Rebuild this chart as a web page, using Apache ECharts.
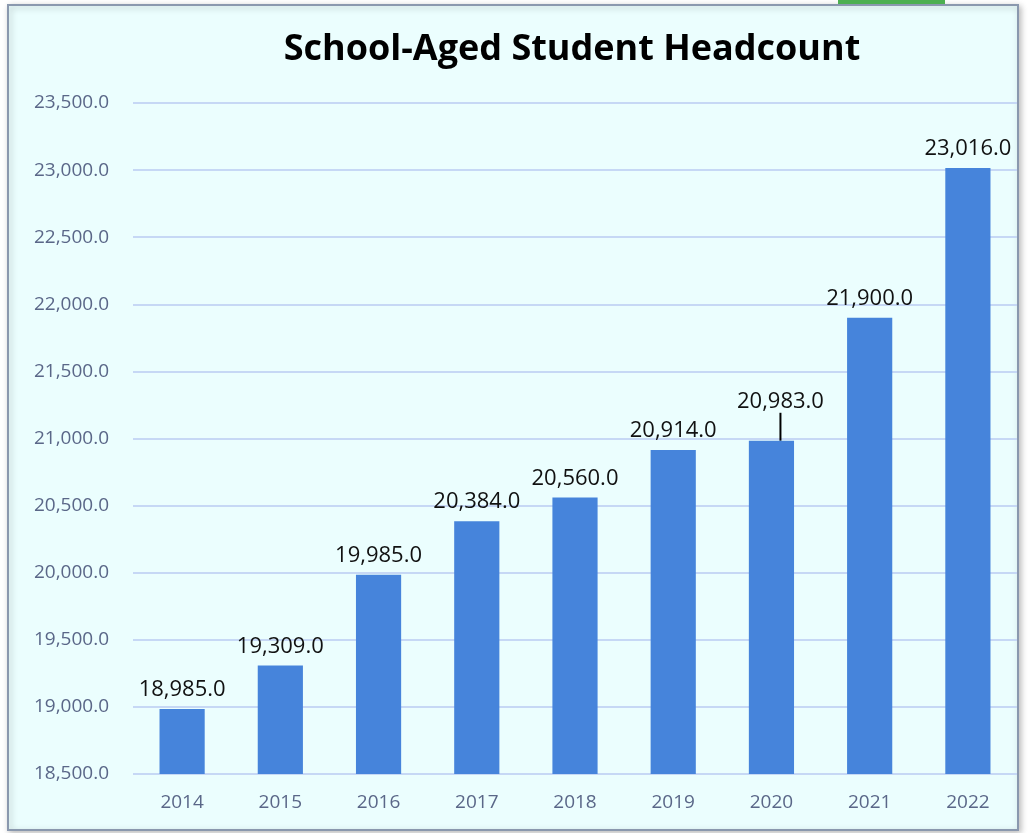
<!DOCTYPE html>
<html><head><meta charset="utf-8">
<script src="https://cdn.jsdelivr.net/npm/echarts@6/dist/echarts.min.js"></script>
<style>html,body{margin:0;padding:0;background:#fff;}#c{width:1030px;height:833px;}</style>
</head><body><div id="c"></div>
<script>
const years = ['2014','2015','2016','2017','2018','2019','2020','2021','2022'];
const headcount = [18985, 19309, 19985, 20384, 20560, 20914, 20983, 21900, 23016];
const yTicks = {min: 18500, max: 23500, interval: 500};
const title = 'School-Aged Student Headcount';
const movedLabel = 6;

const chart = echarts.init(document.getElementById('c'));
const fmt = v => v.toLocaleString('en-US', {minimumFractionDigits: 1, maximumFractionDigits: 1});
chart.setOption({
  backgroundColor: '#ffffff',
  animation: false,
  graphic: [
    {type: 'rect', z: -10, shape: {x: 8, y: 5, width: 1010, height: 825},
     style: {fill: '#ebfefe', stroke: '#8a98ae', lineWidth: 2, shadowBlur: 6, shadowColor: 'rgba(0,0,0,0.25)', shadowOffsetX: 2, shadowOffsetY: 2}},
    {type: 'rect', z: -9, shape: {x: 838, y: 0, width: 107, height: 4}, style: {fill: '#4caf50'}}
  ],
  title: {
    text: title, left: 567, top: 27, textAlign: 'center',
    textStyle: {fontFamily: 'Open Sans', fontWeight: 'bold', fontSize: 36, color: '#000'}
  },
  grid: {left: 133, right: 13, top: 103, bottom: 59},
  xAxis: {
    type: 'category', data: years,
    axisLine: {show: false}, axisTick: {show: false},
    axisLabel: {color: '#5a6788', fontSize: 19, fontFamily: 'Open Sans', margin: 19}
  },
  yAxis: {
    type: 'value', min: yTicks.min, max: yTicks.max, interval: yTicks.interval,
    axisLine: {show: false}, axisTick: {show: false},
    axisLabel: {color: '#5a6788', fontSize: 19, fontFamily: 'Open Sans', margin: 24, formatter: v => fmt(v)},
    splitLine: {lineStyle: {color: '#c6d8f5', width: 2}}
  },
  series: [{
    type: 'bar',
    data: headcount.map((v, i) => i === movedLabel ? {value: v, labelLine: {show: true}} : {value: v, labelLine: {show: false}}),
    barWidth: '46%',
    itemStyle: {color: '#4684db'},
    label: {show: true, position: 'top', distance: 8, color: '#111', fontSize: 22, fontFamily: 'Open Sans', formatter: p => fmt(p.value)},
    labelLine: {show: false, length2: 0, lineStyle: {color: '#000', width: 2}},
    labelLayout: p => p.dataIndex === movedLabel ? {dx: 9, dy: -20} : {}
  }]
});
</script></body></html>
